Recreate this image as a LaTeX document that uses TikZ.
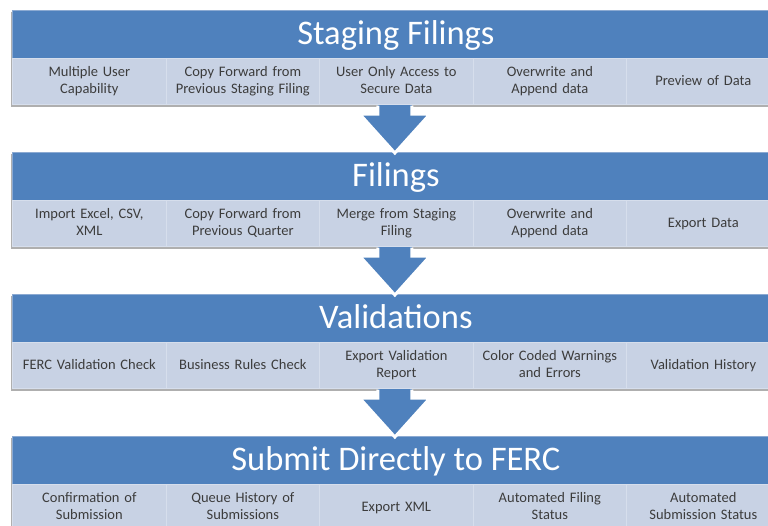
\documentclass[tikz,border=0pt]{standalone}
\usepackage{fontspec}
\setmainfont{Carlito}
\usetikzlibrary{calc}
\definecolor{hdr}{RGB}{79,129,189}
\definecolor{hdredge}{RGB}{140,170,210}
\definecolor{bandc}{RGB}{200,210,228}
\definecolor{sepc}{RGB}{214,222,236}
\definecolor{txtc}{RGB}{60,60,60}
\definecolor{shadowc}{RGB}{175,175,175}
\tikzset{
  header/.style={fill=hdr, draw=hdredge, line width=0.8pt, anchor=north west,
    minimum width=767pt, minimum height=48pt, inner sep=0pt, text=white,
    text height=26pt, text depth=6pt,
    font=\fontsize{34.5}{40}\selectfont},
  cell/.style={fill=bandc, draw=sepc, line width=1.2pt, anchor=north west,
    minimum width=153.5pt, minimum height=46pt, inner sep=0pt, text width=150pt,
    align=center, text=txtc, font=\fontsize{14.5}{17}\selectfont,
    execute at begin node=\strut, execute at end node=\strut},
  arrowfill/.style={fill=hdr},
  arrowedge/.style={draw=white, line width=3pt, line join=miter},
}
\newcommand\blockrow[8]{%
  \fill[shadowc] (10.5,{#2+2}) rectangle (781,{#2+96.6});
  \node[header] (h#1) at (12,#2) {#3};
  \node[cell] (c#1a) at (12,{#2+48}) {#4};
  \node[cell] (c#1b) at (165.5,{#2+48}) {#5};
  \node[cell] (c#1c) at (319,{#2+48}) {#6};
  \node[cell] (c#1d) at (472.5,{#2+48}) {#7};
  \node[cell] (c#1e) at (626,{#2+48}) {#8};
}
\newcommand\blockarrow[2]{%
  \coordinate (a#1) at ($(#1.south)+(-1.5,0)$);
  \coordinate (t#1) at ($(a#1 |- #2.north)+(0,1)$);
  \fill[arrowfill] ($(a#1)+(-17,0)$) -- ($(a#1)+(-17,9)$) -- ($(a#1)+(-35,9)$) -- (t#1)
     -- ($(a#1)+(35,9)$) -- ($(a#1)+(17,9)$) -- ($(a#1)+(17,0)$) -- cycle;
  \draw[arrowedge] ($(a#1)+(-17,0.5)$) -- ($(a#1)+(-17,9)$) -- ($(a#1)+(-35,9)$) -- (t#1)
     -- ($(a#1)+(35,9)$) -- ($(a#1)+(17,9)$) -- ($(a#1)+(17,0.5)$);
}
\begin{document}
\begin{tikzpicture}[x=1pt,y=-1pt]
  \useasboundingbox (0,0) rectangle (768,525);
  \fill[white] (0,0) rectangle (768,525);
  \blockrow{1}{10}{Staging Filings}{Multiple User\\Capability}{Copy Forward from\\Previous Staging Filing}{User Only Access to\\Secure Data}{Overwrite and\\Append data}{Preview of Data}
  \blockrow{2}{152}{Filings}{Import Excel, CSV,\\XML}{Copy Forward from\\Previous Quarter}{Merge from Staging\\Filing}{Overwrite and\\Append data}{Export Data}
  \blockrow{3}{294}{Validations}{FERC Validation Check}{Business Rules Check}{Export Validation\\Report}{Color Coded Warnings\\and Errors}{Validation History}
  \blockrow{4}{436}{Submit Directly to FERC}{Confirmation of\\Submission}{Queue History of\\Submissions}{Export XML}{Automated Filing\\Status}{Automated\\Submission Status}
  \blockarrow{c1c}{h2}
  \blockarrow{c2c}{h3}
  \blockarrow{c3c}{h4}
\end{tikzpicture}
\end{document}
